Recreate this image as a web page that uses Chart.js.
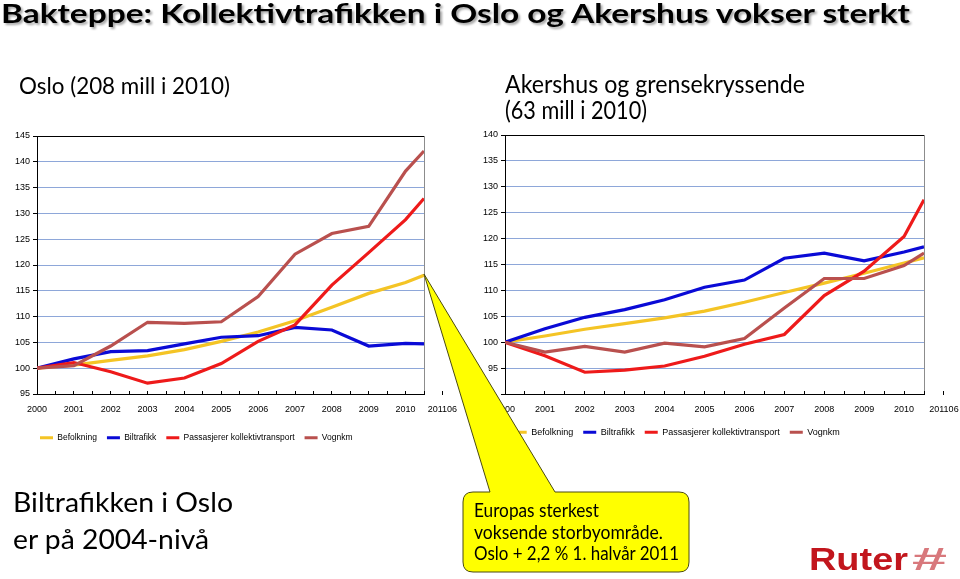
<!DOCTYPE html>
<html>
<head>
<meta charset="utf-8">
<script src="https://cdn.jsdelivr.net/npm/chart.js@4"></script>
<style>
  html, body { margin: 0; padding: 0; background: #fff; }
  #page { position: relative; width: 960px; height: 579px; overflow: hidden; }
  canvas { position: absolute; }
  #over { position: absolute; left: 0; top: 0; pointer-events: none; }
  #over text { font-family: Lato, 'Open Sans', sans-serif; fill: #000; }
</style>
</head>
<body>
<div id="page">
  <canvas id="oslo" width="480" height="340" style="left:0;top:120px"></canvas>
  <canvas id="akershus" width="490" height="340" style="left:470px;top:120px"></canvas>

  <svg id="over" width="960" height="579">
    <defs>
      <filter id="shadow" x="-5%" y="-30%" width="110%" height="160%">
        <feDropShadow dx="2" dy="2" stdDeviation="1.2" flood-color="#000" flood-opacity="0.35"/>
      </filter>
    </defs>
    <text x="1" y="23.3" font-size="26.5" font-weight="bold" textLength="909" lengthAdjust="spacingAndGlyphs" filter="url(#shadow)">Bakteppe: Kollektivtrafikken i Oslo og Akershus vokser sterkt</text>

    <text x="19" y="94.3" font-size="24" textLength="211" lengthAdjust="spacingAndGlyphs">Oslo (208 mill i 2010)</text>
    <text x="505" y="92.7" font-size="24.5" textLength="300" lengthAdjust="spacingAndGlyphs">Akershus og grensekryssende</text>
    <text x="505" y="119" font-size="24.5" textLength="142" lengthAdjust="spacingAndGlyphs">(63 mill i 2010)</text>

    <text x="13" y="511.7" font-size="26" textLength="220" lengthAdjust="spacingAndGlyphs">Biltrafikken i Oslo</text>
    <text x="13" y="549" font-size="26" textLength="196" lengthAdjust="spacingAndGlyphs">er på 2004-nivå</text>

    <!-- callout -->
    <path d="M473,492 L490,492 L424,274 L555,492 L679,492 Q689,492 689,502 L689,562 Q689,572 679,572 L473,572 Q463,572 463,562 L463,502 Q463,492 473,492 Z"
          fill="#ffff00" stroke="#4a4a10" stroke-width="1"/>
    <text x="474" y="517" font-size="19.5" textLength="125" lengthAdjust="spacingAndGlyphs">Europas sterkest</text>
    <text x="474" y="538.5" font-size="19.5" textLength="189" lengthAdjust="spacingAndGlyphs">voksende storbyområde.</text>
    <text x="474" y="560" font-size="19.5" textLength="205" lengthAdjust="spacingAndGlyphs">Oslo + 2,2 % 1. halvår 2011</text>

    <!-- logo -->
    <text x="809" y="570" font-size="30.5" font-weight="bold" textLength="99" lengthAdjust="spacingAndGlyphs" style="font-family:'Liberation Sans',Arial,sans-serif;fill:#c2161d">Ruter</text>
    <text x="912" y="570" font-size="31" font-weight="bold" textLength="35" lengthAdjust="spacingAndGlyphs" style="font-family:'Liberation Sans',Arial,sans-serif;fill:#d8787c">#</text>
  </svg>
</div>

<script>
// x positions: whole years, last point is June 2011 (half a year after 2010)
const xValues = [0, 1, 2, 3, 4, 5, 6, 7, 8, 9, 10, 10.5];
const yearLabels = ['2000', '2001', '2002', '2003', '2004', '2005', '2006', '2007', '2008', '2009', '2010', '201106'];
const seriesNames = ['Befolkning', 'Biltrafikk', 'Passasjerer kollektivtransport', 'Vognkm'];
const seriesColors = ['#f4c425', '#0a0ad6', '#ee1a1a', '#b9504e'];

// Oslo (index 2000 = 100)
const osloBefolkning  = [100, 100.6, 101.5, 102.4, 103.6, 105.2, 107.0, 109.2, 111.8, 114.5, 116.6, 118.0];
const osloBiltrafikk  = [100, 101.8, 103.2, 103.4, 104.7, 106.0, 106.3, 107.9, 107.4, 104.3, 104.8, 104.7];
const osloPassasjerer = [100, 101.1,  99.3,  97.1,  98.1, 100.9, 105.2, 108.4, 116.1, 122.4, 128.8, 132.9];
const osloVognkm      = [100, 100.5, 104.3, 108.9, 108.7, 109.0, 113.9, 122.1, 126.1, 127.5, 138.2, 142.1];

// Akershus og grensekryssende (index 2000 = 100)
const akBefolkning  = [100, 101.2, 102.5, 103.6, 104.7, 106.0, 107.7, 109.6, 111.4, 113.3, 115.3, 116.3];
const akBiltrafikk  = [100, 102.6, 104.8, 106.3, 108.2, 110.6, 112.0, 116.2, 117.2, 115.7, 117.4, 118.4];
const akPassasjerer = [100,  97.4,  94.2,  94.6,  95.4,  97.3,  99.6, 101.5, 109.0, 113.7, 120.4, 127.5];
const akVognkm      = [100,  98.1,  99.2,  98.1,  99.8,  99.1, 100.7, 106.6, 112.3, 112.3, 114.8, 117.2];

const fontFamily = "'Liberation Sans', Arial, sans-serif";
const gridBlue = '#8ea7d9';

//tick every half year (small marks), labels only on whole years, plus the 201106 label after the end
function xTicks(sc) {
  let t = [];
  for (let v = 0; v <= 10.5; v += 0.5) t.push({ value: v });
  t.push({ value: yearLabels.length - 1 });
  sc.ticks = t;
}

function makeChart(id, allSeries, s) {
  //s holds the layout numbers for this chart
  const datasets = allSeries.map((vals, i) => ({
    label: seriesNames[i],
    data: vals.map((v, j) => ({ x: xValues[j], y: v })),
    borderColor: seriesColors[i],
    backgroundColor: seriesColors[i],
    borderWidth: 3.2,
    pointRadius: 0,
    tension: 0,
    fill: false,
    order: allSeries.length - i  // later series on top, like the original
  }));

  return new Chart(document.getElementById(id), {
    type: 'line',
    data: { datasets: datasets },
    options: {
      responsive: false,
      animation: false,
      layout: { padding: s.padding },
      plugins: {
        tooltip: { enabled: false },
        legend: {
          position: 'bottom',
          align: 'start',
          labels: {
            boxWidth: 13,
            boxHeight: 3,
            padding: 10,
            color: '#000',
            font: { family: fontFamily, size: s.legendSize },
            sort: (a, b) => a.datasetIndex - b.datasetIndex,
            generateLabels: c => Chart.defaults.plugins.legend.labels.generateLabels(c).map(l => Object.assign(l, { lineWidth: 0 }))
          }
        }
      },
      scales: {
        x: {
          type: 'linear',
          min: 0,
          max: 10.5,
          afterBuildTicks: xTicks,
          afterFit: sc => { sc.height = s.xHeight; sc.paddingLeft = 0; sc.paddingRight = 0; },
          ticks: {
            autoSkip: false,
            maxRotation: 0,
            padding: 12.9,
            color: '#000',
            font: { family: fontFamily, size: 9 },
            callback: v => (Number.isInteger(v) && yearLabels[v] !== undefined ? yearLabels[v] : '')
          },
          grid: {
            drawTicks: true,
            tickLength: -3,   // small marks pointing into the plot
            tickColor: '#000',
            lineWidth: 1,
            color: c => (c.tick && c.tick.value === 10.5 ? '#8c8c8c' : 'rgba(0,0,0,0)')
          },
          border: { color: '#000', width: 1 }
        },
        y: {
          min: s.yMin,
          max: s.yMax,
          afterFit: sc => { sc.width = s.yWidth; sc.paddingTop = 0; sc.paddingBottom = 0; },
          ticks: {
            stepSize: 5,
            padding: 3,
            color: '#000',
            font: { family: fontFamily, size: 9 },
            callback: v => (v === s.yHide ? '' : v)
          },
          grid: {
            lineWidth: 1,
            tickLength: 4,
            tickColor: '#000',
            color: c => (c.tick && c.tick.value === s.yMax ? '#000' : gridBlue)
          },
          border: { color: '#000', width: 1 }
        }
      }
    },
    plugins: [{
      id: 'legendStart',
      afterLayout: c => { c.legend.left = s.legendLeft; }
    }]
  });
}

makeChart('oslo', [osloBefolkning, osloBiltrafikk, osloPassasjerer, osloVognkm], {
  padding: { left: 0, right: 56, top: 16, bottom: 8.05 },
  yWidth: 37, xHeight: 29.45, legendSize: 8.5, legendLeft: 30,
  yMin: 95, yMax: 145, yHide: null
});

makeChart('akershus', [akBefolkning, akBiltrafikk, akPassasjerer, akVognkm], {
  padding: { left: 0, right: 36, top: 15, bottom: 13.2 },
  yWidth: 35, xHeight: 23.8, legendSize: 9, legendLeft: 33.7,
  yMin: 90, yMax: 140, yHide: 90
});
</script>
</body>
</html>
